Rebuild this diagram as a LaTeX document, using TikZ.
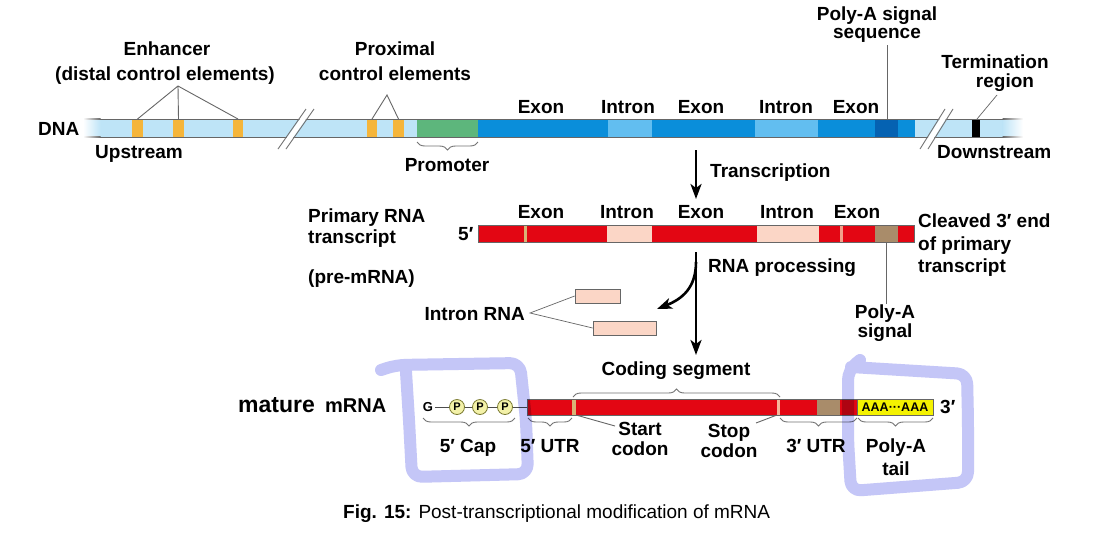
\documentclass[tikz,border=0pt]{standalone}
\usepackage{fontspec}
\setmainfont{Liberation Sans}
\usetikzlibrary{decorations.pathreplacing,arrows.meta}
\definecolor{dnalight}{HTML}{BEE4F7}
\definecolor{exonblue}{HTML}{0A8EDA}
\definecolor{intronblue}{HTML}{62BEF0}
\definecolor{polyblue}{HTML}{0562B2}
\definecolor{enhyel}{HTML}{F5B53A}
\definecolor{promgreen}{HTML}{5DB67C}
\definecolor{rnared}{HTML}{E30613}
\definecolor{intronpink}{HTML}{FBD6C6}
\definecolor{polybrown}{HTML}{A98C6A}
\definecolor{tanline}{HTML}{D9B276}
\definecolor{stopc}{HTML}{F6B49A}
\definecolor{salmon}{HTML}{F2A08A}
\definecolor{tailyel}{HTML}{F4F200}
\definecolor{pcirc}{HTML}{F3F1A8}
\definecolor{pline}{HTML}{7A7A30}
\definecolor{hilite}{HTML}{C4C6F7}
\begin{document}
\begin{tikzpicture}[x=1pt,y=-1pt,
  lbl/.style={font=\fontsize{19}{22}\selectfont\bfseries,inner sep=0pt,anchor=base},
  lead/.style={draw=black!60,line width=0.9pt},
  brc/.style={draw=black!55,line width=0.9pt,decorate,decoration={brace,amplitude=8pt}},
  brcd/.style={brc,decoration={mirror}},
  barline/.style={draw=black!60,line width=0.7pt},
  bigarrow/.style={line width=2.6pt,-{Stealth[length=15pt,width=11pt,inset=4pt]}},
  hl/.style={draw=hilite,line width=12pt,line cap=round,line join=round,rounded corners=10pt},
  brk/.style={draw=black!55,line width=0.9pt},
  pc/.style={circle,draw=pline,fill=pcirc,line width=0.8pt,minimum size=15pt,inner sep=0pt,font=\fontsize{11}{11}\selectfont\bfseries},
  ibox/.style={draw=black!60,fill=intronpink,line width=0.7pt,minimum height=14pt,inner sep=0pt}
]
\fill[white] (0,0) rectangle (1098,542);
\useasboundingbox (0,0) rectangle (1098,542);

% ---------------- DNA ----------------
\fill[dnalight] (100,119) rectangle (1003,137);
\shade[left color=white,right color=dnalight] (83,119) rectangle (100.5,137);
\shade[left color=dnalight,right color=white] (1002.5,119) rectangle (1023,137);
\fill[enhyel] (132,119) rectangle (143,137);
\fill[enhyel] (173,119) rectangle (184,137);
\fill[enhyel] (233,119) rectangle (243,137);
\fill[enhyel] (367,119) rectangle (377,137);
\fill[enhyel] (393,119) rectangle (404,137);
\fill[promgreen] (417,119) rectangle (478,137);
\fill[exonblue] (478,119) rectangle (915,137);
\fill[intronblue] (608,119) rectangle (652,137);
\fill[intronblue] (755,119) rectangle (818,137);
\fill[polyblue] (875,119) rectangle (898,137);
\fill[black] (972,119) rectangle (980,137);
\draw[barline] (100,119) -- (1003,119) (100,137) -- (1003,137);
\shade[left color=white,right color=black!60] (83,118.65) rectangle (100.5,119.35);
\shade[left color=white,right color=black!60] (83,136.65) rectangle (100.5,137.35);
\shade[left color=black!60,right color=white] (1002.5,118.65) rectangle (1023,119.35);
\shade[left color=black!60,right color=white] (1002.5,136.65) rectangle (1023,137.35);
% breaks
\fill[white] (279,149) -- (307,109) -- (313,109) -- (285,149) -- cycle;
\draw[brk] (278,149) -- (306,109) (286,149) -- (314,109);
\fill[white] (921,149) -- (946,109) -- (952,109) -- (927,149) -- cycle;
\draw[brk] (920,149) -- (945,109) (928,149) -- (953,109);

% DNA labels
\node[lbl,anchor=base west] (dna) at (38,135) {DNA};
\node[lbl,anchor=base west] (up) at (95,158) {Upstream};
\node[lbl] (enh1) at (167,55) {Enhancer};
\node[lbl] (enh2) at (165,80) {(distal control elements)};
\node[lbl] (prox1) at (395,55) {Proximal};
\node[lbl] (prox2) at (395,80) {control elements};
\node[lbl] (prom) at (447,171) {Promoter};
\node[lbl] (dex1) at (541,113) {Exon};
\node[lbl] (din1) at (628,113) {Intron};
\node[lbl] (dex2) at (701,113) {Exon};
\node[lbl] (din2) at (786,113) {Intron};
\node[lbl] (dex3) at (856,113) {Exon};
\node[lbl] (pas1) at (877,20) {Poly-A signal};
\node[lbl] (pas2) at (877,38) {sequence};
\node[lbl] (term1) at (995,68) {Termination};
\node[lbl] (term2) at (1005,87) {region};
\node[lbl,anchor=base west] (down) at (937,158) {Downstream};
\node[lbl,anchor=base west] (trans) at (710,177) {Transcription};

% DNA leaders
\coordinate (ev) at (178,86);
\coordinate (e1) at (137.5,119);
\coordinate (e2) at (178.5,119);
\coordinate (e3) at (238,119);
\draw[lead] (e1) -- (ev) -- (e3) (ev) -- (e2);
\coordinate (pv) at (387,95);
\coordinate (pp1) at (372,119);
\coordinate (pp2) at (398.5,119);
\draw[lead] (pp1) -- (pv) -- (pp2);
\draw[brcd] (417,142) -- (478,142);
\coordinate (pasb) at (887,119);
\draw[lead,line width=0.7pt] (pasb |- pas2.south) ++(0,3) -- (pasb);
\coordinate (termb) at (977,119);
\coordinate (termt) at (997,95);
\draw[lead,line width=0.7pt] (termb) -- (termt);
\coordinate (ta) at (696,150);
\coordinate (tb) at (696,199);
\draw[bigarrow] (ta) -- (tb);

% ---------------- pre-mRNA ----------------
\fill[rnared] (478,225) rectangle (914,242);
\fill[intronpink] (607,225) rectangle (652,242);
\fill[intronpink] (757,225) rectangle (819,242);
\fill[tanline] (524,225) rectangle (527,242);
\fill[salmon] (840,225) rectangle (843,242);
\fill[polybrown] (875,225) rectangle (898,242);
\draw[barline] (478,225) rectangle (914,242);

\node[lbl,anchor=base west] (prim1) at (308,222) {Primary RNA};
\node[lbl,anchor=base west] (prim2) at (308,243) {transcript};
\node[lbl,anchor=base west] (five) at (458,240) {5′};
\node[lbl,anchor=base west] (pre) at (308,283) {(pre-mRNA)};
\node[lbl] (rex1) at (541,218) {Exon};
\node[lbl] (rin1) at (627,218) {Intron};
\node[lbl] (rex2) at (701,218) {Exon};
\node[lbl] (rin2) at (787,218) {Intron};
\node[lbl] (rex3) at (857,218) {Exon};
\node[lbl,anchor=base west] (clv1) at (918,227) {Cleaved 3′ end};
\node[lbl,anchor=base west] (clv2) at (918,250) {of primary};
\node[lbl,anchor=base west] (clv3) at (918,272) {transcript};
\node[lbl,anchor=base west] (proc) at (708,272) {RNA processing};
\node[lbl] (pas3) at (885,318) {Poly-A};
\node[lbl] (pas4) at (885,337) {signal};
\coordinate (pasr) at (886,242);
\draw[lead,line width=0.7pt] (pasr) -- (pasr |- pas3.north) ++(0,-4);
\coordinate (pa) at (696,252);
\coordinate (pb) at (696,355);
\draw[bigarrow] (pa) -- (pb);
\coordinate (pbr) at (696,262);
\coordinate (pbt) at (657,309);
\draw[bigarrow] (pbr) .. controls (696,288) and (682,299) .. (pbt);

\node[lbl,anchor=base east] (irna) at (525,320) {Intron RNA};
\node[ibox,minimum width=45pt] (ib1) at (597.5,296) {};
\node[ibox,minimum width=63pt] (ib2) at (624.5,328) {};
\coordinate (irv) at (530,313);
\draw[lead,line width=0.7pt] (ib1.west) -- (irv) -- (ib2.west);

% ---------------- mature mRNA ----------------
\node[lbl,anchor=base west,font=\fontsize{23}{25}\selectfont\bfseries] (mat) at (238,412) {mature};
\node[lbl,anchor=base west,font=\fontsize{20}{22}\selectfont\bfseries] (mrna) at (325,412) {mRNA};
\node[font=\fontsize{13}{13}\selectfont\bfseries,inner sep=1.5pt] (g) at (428,407) {G};
\node[pc] (p1) at (457,407) {P};
\node[pc] (p2) at (480,407) {P};
\node[pc] (p3) at (505,407) {P};
\coordinate (mbar) at (527,407);
\draw[draw=black!70,line width=0.9pt] (g) -- (p1) -- (p2) -- (p3) -- (mbar);

\fill[rnared] (527,399) rectangle (857,415);
\fill[tanline] (572,399) rectangle (576,415);
\fill[stopc] (777,399) rectangle (780,415);
\fill[polybrown] (817,399) rectangle (840,415);
\fill[tailyel] (857,399) rectangle (933,415);
\draw[barline] (527,399) rectangle (933,415);
\draw[barline] (857,399) -- (857,415);
\node[font=\fontsize{12.5}{13}\selectfont\bfseries,inner sep=0pt] (aaa) at (895,407.5) {AAA···AAA};
\node[lbl,anchor=base west] (three) at (940,413) {3′};

\draw[brcd] (423,418) -- (515,418);
\draw[brcd] (528,418) -- (572,418);
\draw[brcd] (780,418) -- (857,418);
\draw[brcd] (858,418) -- (933,418);
\draw[brc] (573,397) -- (780,397);

\node[lbl] (cod) at (676,375) {Coding segment};
\node[lbl] (cap5) at (468,452) {5′ Cap};
\node[lbl] (utr5) at (550,452) {5′ UTR};
\node[lbl] (st1) at (640,435) {Start};
\node[lbl] (st2) at (640,455) {codon};
\node[lbl] (sp1) at (729,437) {Stop};
\node[lbl] (sp2) at (729,457) {codon};
\node[lbl] (utr3) at (816,452) {3′ UTR};
\node[lbl] (tail1) at (896,452) {Poly-A};
\node[lbl] (tail2) at (896,475) {tail};
\coordinate (stc) at (576,415);
\coordinate (stt) at (615,426);
\draw[lead] (stc) -- (stt);
\coordinate (spc) at (777,415);
\coordinate (spt) at (756,423);
\draw[lead] (spc) -- (spt);

% caption
\node[anchor=base west,inner sep=0pt,font=\fontsize{19}{21}\selectfont] (capt) at (343,518) {\textbf{Fig. 15:} Post-transcriptional modification of mRNA};

% hand-drawn highlights
\begin{scope}[blend mode=multiply]
\draw[hl] (381,370) -- (396,365) -- (520,363) -- (526,420) -- (528,474) -- (412,477) -- (409,420) -- (406,372);
\draw[hl] (860,360) -- (848,370) -- (848,440) -- (851,491) -- (968,482) -- (968,420) -- (967,374) -- (851,367);
\end{scope}
\end{tikzpicture}
\end{document}
